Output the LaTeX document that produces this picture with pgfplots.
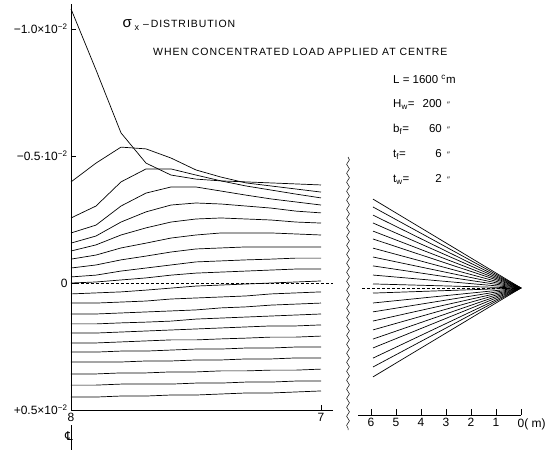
\documentclass[border=0pt]{standalone}
\usepackage{fontspec}
\setmainfont{Liberation Sans}
\newfontfamily\djv{DejaVu Sans}
\newfontfamily\lettering[LetterSpace=9]{Liberation Sans}
\usepackage{pgfplots}
\pgfplotsset{compat=1.18}
\usepackage{pgfplotstable}
\usetikzlibrary{decorations.pathmorphing}

% sigma_x in units of 1e-2, stored with "up" positive (top of chart = -1.0e-2)
\pgfplotstableread{
x A B C D E F G H I J K L M N O P Q R S T U
8.0 1.079 0.398 0.256 0.197 0.157 0.126 0.094 0.059 0.024 0.000 -0.043 -0.079 -0.122 -0.161 -0.197 -0.236 -0.272 -0.311 -0.358 -0.402 -0.449
7.9 0.839 0.472 0.303 0.228 0.185 0.150 0.110 0.071 0.031 0.004 -0.039 -0.079 -0.122 -0.161 -0.197 -0.236 -0.272 -0.311 -0.358 -0.402 -0.449
7.8 0.591 0.535 0.398 0.303 0.240 0.189 0.138 0.091 0.047 0.012 -0.035 -0.075 -0.118 -0.157 -0.193 -0.232 -0.268 -0.311 -0.354 -0.398 -0.445
7.7 0.472 0.528 0.449 0.354 0.280 0.217 0.157 0.106 0.059 0.020 -0.028 -0.071 -0.114 -0.154 -0.189 -0.228 -0.268 -0.307 -0.354 -0.398 -0.445
7.6 0.425 0.492 0.449 0.378 0.307 0.240 0.177 0.122 0.071 0.031 -0.020 -0.063 -0.110 -0.150 -0.185 -0.224 -0.264 -0.307 -0.350 -0.398 -0.441
7.5 0.409 0.445 0.425 0.378 0.315 0.252 0.189 0.134 0.083 0.039 -0.012 -0.059 -0.106 -0.142 -0.181 -0.224 -0.260 -0.303 -0.350 -0.394 -0.441
7.4 0.402 0.417 0.402 0.362 0.311 0.256 0.197 0.138 0.087 0.043 -0.008 -0.055 -0.098 -0.138 -0.177 -0.220 -0.260 -0.303 -0.346 -0.394 -0.437
7.3 0.398 0.394 0.382 0.346 0.303 0.252 0.197 0.142 0.091 0.047 -0.004 -0.051 -0.094 -0.134 -0.173 -0.217 -0.256 -0.299 -0.346 -0.390 -0.433
7.2 0.394 0.382 0.366 0.331 0.295 0.248 0.197 0.142 0.094 0.051 0.000 -0.043 -0.087 -0.130 -0.169 -0.213 -0.256 -0.299 -0.343 -0.390 -0.433
7.1 0.390 0.370 0.350 0.319 0.283 0.240 0.193 0.142 0.098 0.055 0.004 -0.039 -0.083 -0.126 -0.169 -0.213 -0.252 -0.295 -0.343 -0.386 -0.429
7.0 0.386 0.358 0.335 0.307 0.276 0.236 0.189 0.142 0.098 0.055 0.008 -0.035 -0.079 -0.122 -0.165 -0.209 -0.252 -0.295 -0.339 -0.386 -0.425
}\lefttab

\pgfplotstableread{
x A B C D E F G H I J K L M N O P Q R S T U
5.92 0.350 0.319 0.287 0.256 0.224 0.193 0.157 0.122 0.087 0.051 0.016 -0.020 -0.059 -0.094 -0.130 -0.165 -0.201 -0.236 -0.276 -0.311 -0.350
0.00 0 0 0 0 0 0 0 0 0 0 0 0 0 0 0 0 0 0 0 0 0
}\righttab

\pgfplotsset{stressline/.style={black, line width=0.7pt, mark=none, solid}}

\begin{document}
\begin{tikzpicture}[font=\fontsize{10.5}{12}\selectfont]
\path[use as bounding box] (0,0) rectangle (556pt,450pt);

\begin{axis}[
  scale only axis, width=262pt, height=406.4pt,
  at={(71pt,40pt)}, anchor=south west,
  xmin=6.952, xmax=8, ymin=-0.5, ymax=1.1, x dir=reverse,
  axis x line*=bottom, axis y line*=left,
  axis line style={black, line width=0.6pt, -},
  xtick={7,8}, xticklabels={7,8},
  ytick={-0.5,0,0.5,1},
  yticklabels={{+0.5×10\textsuperscript{−2}},{0},{−0.5·10\textsuperscript{−2}},{−1.0×10\textsuperscript{−2}}},
  tick label style={font=\fontsize{12}{13}\selectfont},
  tick align=inside, major tick length=5pt,
  tick style={black, line width=0.6pt},
  clip=false,
]
\pgfplotsinvokeforeach{A,B,C,D,E,F,G,H,I,J,K,L,M,N,O,P,Q,R,S,T,U}{
  \addplot[stressline] table[x=x, y=#1]{\lefttab};
}
\addplot[black, densely dashed, line width=0.4pt, mark=none] coordinates {(8,0) (6.952,0)};
\end{axis}

\begin{axis}[
  scale only axis, width=163pt, height=406.4pt,
  at={(358pt,35pt)}, anchor=south west,
  xmin=0, xmax=6.52, ymin=-0.5, ymax=1.1, x dir=reverse,
  axis x line*=bottom, axis y line=none,
  axis line style={black, line width=0.6pt, -},
  xtick={0,1,2,3,4,5,6},
  xticklabels={0\rlap{( m)},1,2,3,4,5,6},
  tick label style={font=\fontsize{12}{13}\selectfont},
  tick align=inside, major tick length=6pt,
  tick style={black, line width=0.6pt},
  clip=false,
]
\pgfplotsinvokeforeach{A,B,C,D,E,F,G,H,I,J,K,L,M,N,O,P,Q,R,S,T,U}{
  \addplot[stressline] table[x=x, y=#1]{\righttab};
}
\addplot[black, densely dashed, line width=0.4pt, mark=none] coordinates {(6.36,0) (0,0)};
\end{axis}

% break mark
\draw[line width=0.5pt, decorate, decoration={snake, amplitude=1.4pt, segment length=9pt}]
  (348pt,293pt) -- (348pt,20pt);

% centre line below the left axis
\draw[line width=0.6pt] (71pt,25pt) -- (71pt,0pt);
\node[font=\djv\fontsize{12}{12}\selectfont] at (69pt,14pt) {℄};

% titles
\node[anchor=base west, font=\fontsize{15}{15}\selectfont] at (119pt,422pt) {σ};
\node[anchor=base west, font=\fontsize{9}{9}\selectfont] at (131pt,419pt) {x};
\node[anchor=base west, font=\lettering\fontsize{10.5}{12}\selectfont, inner sep=0pt] at (143pt,422pt)
  {–\,DISTRIBUTION};
\node[anchor=base west, font=\lettering\fontsize{10.5}{12}\selectfont, inner sep=0pt] at (153pt,394pt)
  {WHEN CONCENTRATED LOAD APPLIED AT CENTRE};

% parameters
\begin{scope}[font=\fontsize{11.5}{13}\selectfont]
\node[anchor=base west, inner sep=0pt] at (393pt,366pt) {L = 1600 \textsuperscript{c}m};
\node[anchor=base west, inner sep=0pt] at (393pt,342pt) {H\textsubscript{w}=};
\node[anchor=base west, inner sep=0pt] at (393pt,317pt) {b\textsubscript{f}=};
\node[anchor=base west, inner sep=0pt] at (393pt,292pt) {t\textsubscript{f}=};
\node[anchor=base west, inner sep=0pt] at (393pt,267pt) {t\textsubscript{w}=};
\node[anchor=base east, inner sep=0pt] at (442pt,342pt) {200};
\node[anchor=base east, inner sep=0pt] at (442pt,317pt) {60};
\node[anchor=base east, inner sep=0pt] at (442pt,292pt) {6};
\node[anchor=base east, inner sep=0pt] at (442pt,267pt) {2};
\foreach \yy in {342,317,292,267}{
  \node[anchor=base west, inner sep=0pt, font=\fontsize{8}{8}\selectfont] at (447pt,\yy pt) {″};
}
\end{scope}
\end{tikzpicture}
\end{document}
